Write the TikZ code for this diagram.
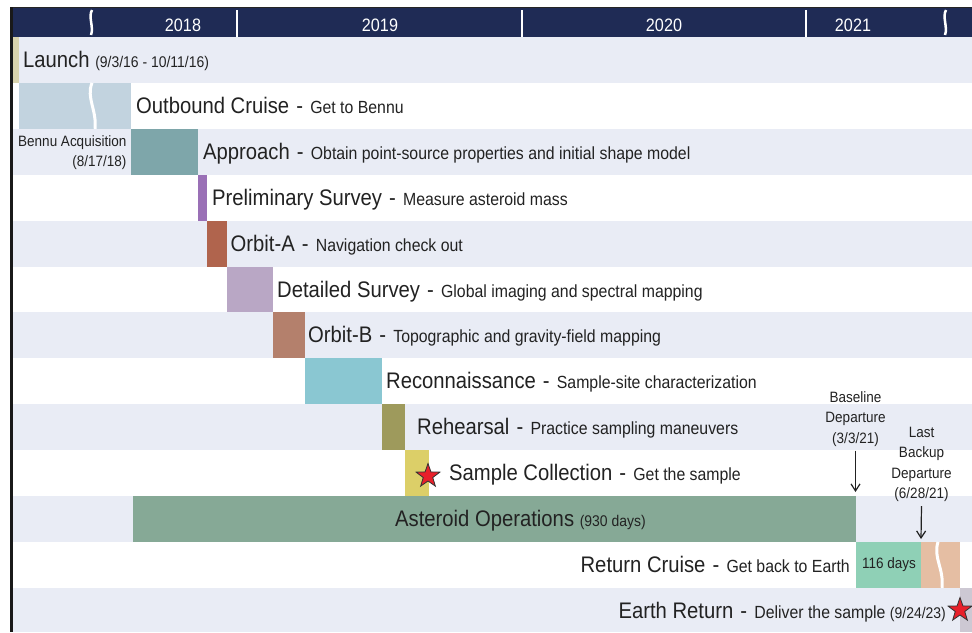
\documentclass[tikz,border=0pt]{standalone}
\usepackage{fontspec}
\setmainfont[FakeStretch=0.9]{Liberation Sans}
\usetikzlibrary{arrows.meta,shapes.geometric}
\definecolor{navy}{HTML}{1F2B55}
\definecolor{band}{HTML}{E9ECF5}
\definecolor{txt}{HTML}{222222}
\definecolor{cLaunch}{HTML}{D8D3AD}
\definecolor{cOut}{HTML}{C2D3DF}
\definecolor{cAppr}{HTML}{7EA6AA}
\definecolor{cPrel}{HTML}{9A70B6}
\definecolor{cOrbA}{HTML}{B0644D}
\definecolor{cDet}{HTML}{B9A7C5}
\definecolor{cOrbB}{HTML}{B4806C}
\definecolor{cRec}{HTML}{8AC7D2}
\definecolor{cReh}{HTML}{9E9A5C}
\definecolor{cSam}{HTML}{DCCF68}
\definecolor{cAst}{HTML}{86A996}
\definecolor{cMint}{HTML}{8FD0B6}
\definecolor{cPeach}{HTML}{E5BEA3}
\definecolor{cEarth}{HTML}{CDC8D3}
\definecolor{starred}{HTML}{E8202A}
\newcommand\bigf{\fontsize{22.5}{24}\selectfont}
\newcommand\descf{\fontsize{17.6}{19}\selectfont}
\newcommand\smf{\fontsize{15.5}{20.5}\selectfont}
\newcommand\notef{\fontsize{15}{20.5}\selectfont}
\newcommand\yrf{\fontsize{18}{20}\selectfont}
\newcommand\dsh{\ \hspace{1.5pt}-\ \hspace{1.5pt}}
\begin{document}
\begin{tikzpicture}[x=1pt,y=-1pt,
  every node/.style={inner sep=0pt,text=txt},
  lbl/.style={anchor=base west},
  lble/.style={anchor=base east},
  yr/.style={anchor=base,text=white,font=\yrf},
  note/.style={align=center,font=\notef},
  arr/.style={draw=txt,line width=1.2pt,-{Straight Barb[length=7pt,width=9pt,line width=1.2pt]}},
  wave/.style={draw=white,line width=3pt},
  hwave/.style={draw=white,line width=2.5pt},
  redstar/.style={star,star points=5,star point ratio=2.5,minimum size=25pt,fill=starred,draw=black!80,line width=0.8pt}]
\useasboundingbox (0,0) rectangle (972,632);
\fill[white] (0,0) rectangle (972,632);
% row bands
\foreach \i in {0,2,...,12}
  \fill[band] (13,{37+45.9*\i}) rectangle (972,{min(632,37+45.9*(\i+1))});
% header
\fill[navy] (10,7) rectangle (972,37);
\draw[black!85,line width=1.2pt] (10,7.5) -- (972,7.5);
\fill[black!90] (10,7) rectangle (13,632);
\foreach \x in {237,522,806} \draw[white,line width=1.5pt] (\x,10) -- (\x,37);
\draw[hwave] (92,10) .. controls (88,17) and (94,27) .. (91,35);
\draw[hwave] (946,10) .. controls (942,17) and (948,27) .. (945,35);
\node[yr] (y18) at (183,31) {2018};
\node[yr] (y19) at (380,31) {2019};
\node[yr] (y20) at (664,31) {2020};
\node[yr] (y21) at (853,31) {2021};
% bars
\fill[cLaunch] (13,37) rectangle (19,82.9);
\fill[cOut] (19,82.9) rectangle (130.5,128.8);
\draw[wave] (92,82.9) .. controls (86,98) and (97,110) .. (95,128.8);
\fill[cAppr] (130.5,128.8) rectangle (198.3,174.7);
\fill[cPrel] (198.3,174.7) rectangle (207.3,220.6);
\fill[cOrbA] (207.3,220.6) rectangle (226.7,266.5);
\fill[cDet] (226.7,266.5) rectangle (273.3,312.4);
\fill[cOrbB] (273.3,312.4) rectangle (304.7,358.3);
\fill[cRec] (304.7,358.3) rectangle (382,404.2);
\fill[cReh] (382,404.2) rectangle (404.7,450.1);
\fill[cSam] (404.7,450.1) rectangle (428.7,496);
\fill[cAst] (133,496) rectangle (856,541.9);
\fill[cMint] (856,541.9) rectangle (921,587.8);
\fill[cPeach] (921,541.9) rectangle (959.5,587.8);
\draw[wave] (938,541.9) .. controls (933,558) and (944,568) .. (942,587.8);
\fill[cEarth] (959.5,587.8) rectangle (972,632);
% labels
\node[lbl] (launch) at (23,67.5) {\bigf Launch \smf(9/3/16 - 10/11/16)};
\node[lbl] (outb) at (136,113.4) {\bigf Outbound Cruise\dsh\descf Get to Bennu};
\node[note,anchor=east,align=right] (acq) at (126.5,152.5) {Bennu Acquisition\\(8/17/18)};
\node[lbl] (appr) at (203,159.3) {\bigf Approach\dsh\descf Obtain point-source properties and initial shape model};
\node[lbl] (prel) at (212,205.2) {\bigf Preliminary Survey\dsh\descf Measure asteroid mass};
\node[lbl] (orba) at (230.5,251.1) {\bigf Orbit-A\dsh\descf Navigation check out};
\node[lbl] (det) at (277,297) {\bigf Detailed Survey\dsh\descf Global imaging and spectral mapping};
\node[lbl] (orbb) at (308,342.9) {\bigf Orbit-B\dsh\descf Topographic and gravity-field mapping};
\node[lbl] (rec) at (386,388.8) {\bigf Reconnaissance\dsh\descf Sample-site characterization};
\node[lbl] (reh) at (417,434.7) {\bigf Rehearsal\dsh\descf Practice sampling maneuvers};
\node[redstar] (star1) at (428,476) {};
\node[lbl] (sam) at (449,480.6) {\bigf Sample Collection\dsh\descf Get the sample};
\node[lbl] (ast) at (395,526.5) {\bigf Asteroid Operations \smf(930 days)};
\node[lble] (ret) at (850,572.4) {\bigf Return Cruise\dsh\descf Get back to Earth};
\node[lbl,font=\notef] (d116) at (862,568) {116 days};
\node[lble] (earth) at (946,618.3) {\bigf Earth Return\dsh\descf Deliver the sample \smf(9/24/23)};
\node[redstar] (star2) at (960,610) {};
% departures
\node[note] (bl) at (855.5,419) {Baseline\\Departure\\(3/3/21)};
\coordinate (blend) at (855.5,492);
\draw[arr] ([yshift=-4pt]bl.south) -- (blend);
\node[note] (lb) at (921.5,464.5) {Last\\Backup\\Departure\\(6/28/21)};
\coordinate (lbend) at (921,539);
\draw[arr] ([yshift=-4pt]lb.south) -- (lbend);
\end{tikzpicture}
\end{document}
